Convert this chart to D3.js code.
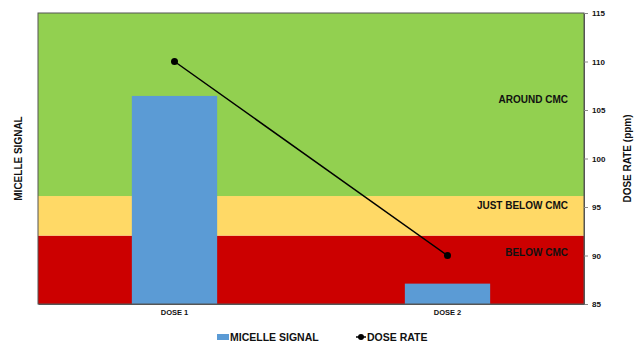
<!DOCTYPE html>
<html>
<head>
<meta charset="utf-8">
<script src="https://cdn.jsdelivr.net/npm/d3@7"></script>
<style>
  body { margin: 0; background: #fff; }
  text { font-family: "Liberation Sans", Arial, sans-serif; font-weight: bold; fill: #111; }
</style>
</head>
<body>
<div id="chart"></div>
<script>
// Data
const categories = ["DOSE 1", "DOSE 2"];
const micelleSignal = [71.5, 7.0];       // left (hidden) axis, 0-100
const doseRate = [110, 90];              // right axis, ppm
const bandNames = ["BELOW CMC", "JUST BELOW CMC", "AROUND CMC"];
const bandSizes = [23.5, 13.6, 62.9];    // stacked on left axis
const bandColors = ["#CC0000", "#FFD966", "#92D050"];
const rightTicks = [85, 90, 95, 100, 105, 110, 115];

const width = 640, height = 345;
const margin = { top: 13, right: 56, bottom: 41, left: 38 };
const innerWidth = width - margin.left - margin.right;
const innerHeight = height - margin.top - margin.bottom;

const svg = d3.select('#chart')
    .append('svg')
    .attr('width', width)
    .attr('height', height);

const g = svg.append('g')
    .attr('transform', `translate(${margin.left},${margin.top})`);

const xScale = d3.scaleBand()
    .domain(categories)
    .range([0, innerWidth])
    .padding(0);

const yLeft = d3.scaleLinear().domain([0, 100]).range([innerHeight, 0]);
const yRight = d3.scaleLinear().domain([85, 115]).range([innerHeight, 0]);

// Background bands (stacked)
let cum = 0;
const bands = bandSizes.map((s, i) => {
    const b = { name: bandNames[i], y0: cum, y1: cum + s, color: bandColors[i] };
    cum += s;
    return b;
});

g.selectAll('rect.band')
    .data(bands)
    .join('rect')
    .attr('class', 'band')
    .attr('x', 0)
    .attr('width', innerWidth)
    .attr('y', d => yLeft(d.y1))
    .attr('height', d => yLeft(d.y0) - yLeft(d.y1))
    .attr('fill', d => d.color);

// Band labels (placed on the right axis scale)
const labelAt = { "BELOW CMC": 90, "JUST BELOW CMC": 94.8, "AROUND CMC": 105.7 };
g.selectAll('text.bandlabel')
    .data(bands)
    .join('text')
    .attr('class', 'bandlabel')
    .attr('x', innerWidth - 16)
    .attr('y', d => yRight(labelAt[d.name]))
    .attr('text-anchor', 'end')
    .style('font-size', '10px')
    .text(d => d.name);

// Bars
const barW = xScale.bandwidth() * 0.3125;
g.selectAll('rect.bar')
    .data(categories)
    .join('rect')
    .attr('class', 'bar')
    .attr('x', d => xScale(d) + xScale.bandwidth() / 2 - barW / 2)
    .attr('width', barW)
    .attr('y', (d, i) => yLeft(micelleSignal[i]))
    .attr('height', (d, i) => innerHeight - yLeft(micelleSignal[i]))
    .attr('fill', '#5B9BD5');

// Dose rate line
const cx = d => xScale(d) + xScale.bandwidth() / 2;
const line = d3.line()
    .x((d, i) => cx(categories[i]))
    .y(d => yRight(d));

g.append('path')
    .datum(doseRate)
    .attr('d', line)
    .attr('fill', 'none')
    .attr('stroke', '#000')
    .attr('stroke-width', 1.5);

g.selectAll('circle.pt')
    .data(doseRate)
    .join('circle')
    .attr('class', 'pt')
    .attr('cx', (d, i) => cx(categories[i]))
    .attr('cy', d => yRight(d))
    .attr('r', 3.5)
    .attr('fill', '#000');

// Plot frame
g.append('rect')
    .attr('width', innerWidth)
    .attr('height', innerHeight)
    .attr('fill', 'none')
    .attr('stroke', '#555')
    .attr('stroke-width', 1);

// Right axis
const rAxis = g.append('g')
    .attr('transform', `translate(${innerWidth},0)`)
    .call(d3.axisRight(yRight).tickValues(rightTicks).tickSize(4).tickPadding(4));
rAxis.select('.domain').attr('stroke', '#555');
rAxis.selectAll('.tick line').attr('stroke', '#888');
rAxis.selectAll('text').style('font-size', '8px').attr('fill', '#222');

// Bottom axis
const xAxis = g.append('g')
    .attr('transform', `translate(0,${innerHeight})`)
    .call(d3.axisBottom(xScale).tickSize(0).tickPadding(6));
xAxis.select('.domain').attr('stroke', '#555');
xAxis.selectAll('text').style('font-size', '7.5px').attr('fill', '#222');

// Axis titles
svg.append('text')
    .attr('transform', `translate(22,${margin.top + innerHeight / 2}) rotate(-90)`)
    .attr('text-anchor', 'middle')
    .style('font-size', '10px')
    .text('MICELLE SIGNAL');

svg.append('text')
    .attr('transform', `translate(631,${margin.top + innerHeight / 2}) rotate(-90)`)
    .attr('text-anchor', 'middle')
    .style('font-size', '10px')
    .text('DOSE RATE (ppm)');

// Legend
const legend = svg.append('g').attr('transform', 'translate(0,337)');
legend.append('rect')
    .attr('x', 217).attr('y', -3).attr('width', 12).attr('height', 6)
    .attr('fill', '#5B9BD5');
legend.append('text')
    .attr('x', 230).attr('y', 4)
    .style('font-size', '10.5px')
    .text('MICELLE SIGNAL');
legend.append('line')
    .attr('x1', 356).attr('x2', 366).attr('y1', 0).attr('y2', 0)
    .attr('stroke', '#000').attr('stroke-width', 1.5);
legend.append('circle')
    .attr('cx', 361).attr('cy', 0).attr('r', 3).attr('fill', '#000');
legend.append('text')
    .attr('x', 367).attr('y', 4)
    .style('font-size', '10.5px')
    .text('DOSE RATE');
</script>
</body>
</html>
